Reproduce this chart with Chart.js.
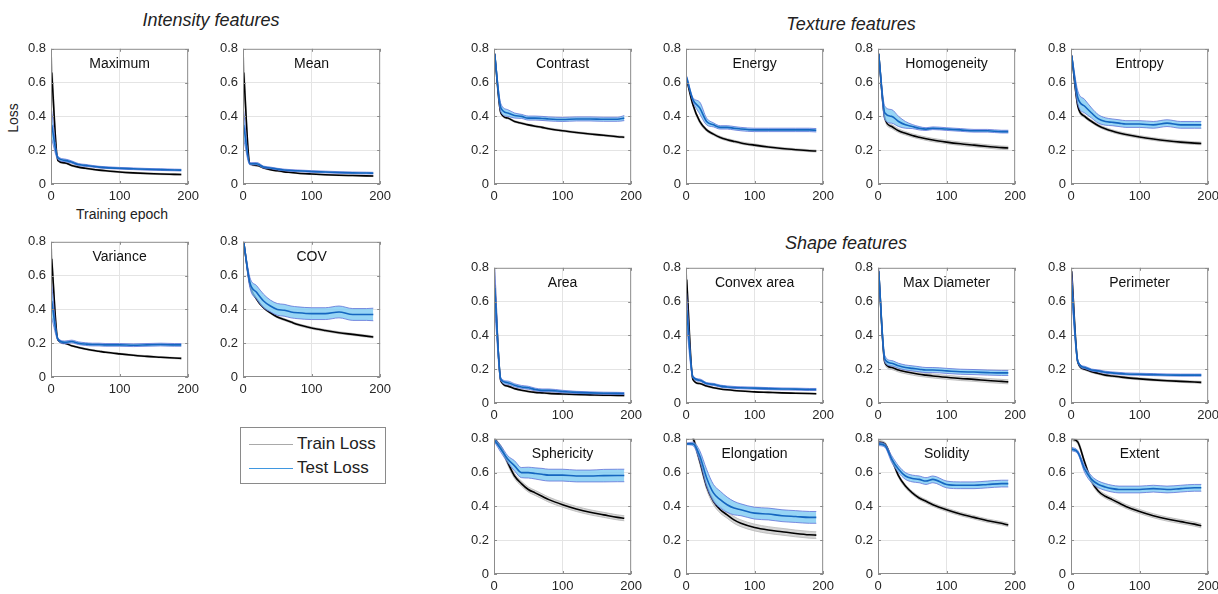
<!DOCTYPE html>
<html>
<head>
<meta charset="utf-8">
<script src="https://cdn.jsdelivr.net/npm/chart.js@4/dist/chart.umd.min.js"></script>
<style>
  body { margin: 0; background: #fff; width: 1218px; height: 594px; position: relative; overflow: hidden; font-family: "Liberation Sans", Arial, sans-serif; color: #222; }
  canvas { position: absolute; }
  .lbl { position: absolute; white-space: nowrap; }
  .grp { font-size: 18px; font-style: italic; transform: translateX(-50%); }
  #legend { position: absolute; left: 240px; top: 427px; width: 144px; height: 55px; border: 1px solid #8a8a8a; font-size: 17px; }
  #legend div { position: absolute; left: 8px; width: 130px; height: 20px; white-space: nowrap; }
  #legend span.line { position: absolute; left: 0; top: 10px; width: 44px; height: 0; }
  #legend span.txt { position: absolute; left: 48px; top: 0; white-space: nowrap; }
</style>
</head>
<body>
<div class="lbl grp" style="left:211px; top:10px">Intensity features</div>
<div class="lbl grp" style="left:851px; top:14px">Texture features</div>
<div class="lbl grp" style="left:846px; top:233px">Shape features</div>
<div class="lbl" style="left:-2px; top:110px; font-size:14px; transform:rotate(-90deg)">Loss</div>
<div class="lbl" style="left:122px; top:206px; font-size:14px; transform:translateX(-50%)">Training epoch</div>
<div id="legend">
  <div style="top:6px"><span class="line" style="border-top:1.5px solid #a9a9a9"></span><span class="txt">Train Loss</span></div>
  <div style="top:30px"><span class="line" style="border-top:1.5px solid #3f97e0"></span><span class="txt">Test Loss</span></div>
</div>
<script>
const epochs = [1, 10, 20, 30, 40, 50, 60, 70, 80, 100, 120, 140, 160, 180, 190];

const maximumTrain   = [0.66, 0.14, 0.125, 0.11, 0.10, 0.093, 0.087, 0.082, 0.078, 0.071, 0.066, 0.062, 0.059, 0.057, 0.056];
const maximumTrainSd = [0.09, 0.006, 0.005, 0.005, 0.005, 0.004, 0.004, 0.004, 0.004, 0.004, 0.004, 0.004, 0.004, 0.004, 0.004];
const maximumTest    = [0.35, 0.155, 0.14, 0.13, 0.115, 0.11, 0.105, 0.10, 0.097, 0.093, 0.09, 0.087, 0.085, 0.083, 0.082];
const maximumTestSd  = [0.085, 0.01, 0.008, 0.007, 0.006, 0.006, 0.005, 0.005, 0.005, 0.005, 0.005, 0.005, 0.005, 0.005, 0.005];

const meanTrain   = [0.66, 0.12, 0.11, 0.095, 0.085, 0.078, 0.072, 0.068, 0.064, 0.059, 0.055, 0.052, 0.05, 0.048, 0.047];
const meanTrainSd = [0.09, 0.005, 0.004, 0.004, 0.004, 0.004, 0.004, 0.003, 0.003, 0.003, 0.003, 0.003, 0.003, 0.003, 0.003];
const meanTest    = [0.35, 0.12, 0.12, 0.10, 0.095, 0.088, 0.083, 0.08, 0.078, 0.074, 0.071, 0.068, 0.066, 0.065, 0.064];
const meanTestSd  = [0.085, 0.006, 0.007, 0.006, 0.005, 0.005, 0.005, 0.005, 0.005, 0.005, 0.005, 0.005, 0.005, 0.005, 0.005];

const varianceTrain   = [0.70, 0.22, 0.20, 0.185, 0.175, 0.166, 0.158, 0.152, 0.146, 0.137, 0.129, 0.122, 0.117, 0.112, 0.11];
const varianceTrainSd = [0.06, 0.005, 0.004, 0.004, 0.004, 0.004, 0.004, 0.004, 0.004, 0.004, 0.004, 0.004, 0.004, 0.004, 0.004];
const varianceTest    = [0.45, 0.225, 0.205, 0.21, 0.20, 0.195, 0.192, 0.192, 0.19, 0.19, 0.188, 0.19, 0.192, 0.19, 0.19];
const varianceTestSd  = [0.10, 0.008, 0.008, 0.008, 0.008, 0.008, 0.008, 0.008, 0.008, 0.008, 0.008, 0.008, 0.008, 0.008, 0.008];

const covTrain   = [0.80, 0.55, 0.46, 0.41, 0.38, 0.355, 0.34, 0.325, 0.31, 0.29, 0.275, 0.262, 0.252, 0.242, 0.237];
const covTrainSd = [0.005, 0.006, 0.006, 0.006, 0.006, 0.006, 0.006, 0.006, 0.006, 0.006, 0.006, 0.006, 0.006, 0.006, 0.006];
const covTest    = [0.80, 0.56, 0.50, 0.45, 0.42, 0.40, 0.395, 0.385, 0.38, 0.375, 0.375, 0.385, 0.37, 0.37, 0.37];
const covTestSd  = [0.005, 0.03, 0.04, 0.04, 0.035, 0.035, 0.035, 0.035, 0.035, 0.035, 0.035, 0.035, 0.035, 0.035, 0.037];

const contrastTrain   = [0.77, 0.42, 0.39, 0.37, 0.36, 0.35, 0.342, 0.335, 0.327, 0.315, 0.305, 0.296, 0.288, 0.28, 0.277];
const contrastTrainSd = [0.005, 0.006, 0.005, 0.005, 0.005, 0.005, 0.005, 0.005, 0.005, 0.005, 0.005, 0.005, 0.005, 0.005, 0.005];
const contrastTest    = [0.77, 0.45, 0.42, 0.405, 0.40, 0.39, 0.39, 0.388, 0.385, 0.382, 0.385, 0.385, 0.383, 0.383, 0.39];
const contrastTestSd  = [0.005, 0.025, 0.02, 0.015, 0.012, 0.012, 0.012, 0.012, 0.012, 0.012, 0.012, 0.012, 0.012, 0.012, 0.015];

const energyTrain   = [0.62, 0.47, 0.37, 0.32, 0.295, 0.275, 0.262, 0.252, 0.243, 0.23, 0.219, 0.21, 0.203, 0.197, 0.195];
const energyTrainSd = [0.01, 0.01, 0.01, 0.008, 0.007, 0.007, 0.007, 0.007, 0.007, 0.007, 0.006, 0.006, 0.006, 0.006, 0.006];
const energyTest    = [0.63, 0.50, 0.45, 0.37, 0.35, 0.335, 0.335, 0.33, 0.325, 0.32, 0.32, 0.32, 0.32, 0.32, 0.318];
const energyTestSd  = [0.01, 0.012, 0.035, 0.02, 0.012, 0.01, 0.01, 0.01, 0.01, 0.01, 0.01, 0.01, 0.01, 0.01, 0.01];

const homogeneityTrain   = [0.77, 0.39, 0.34, 0.315, 0.30, 0.287, 0.277, 0.268, 0.26, 0.248, 0.238, 0.23, 0.222, 0.215, 0.213];
const homogeneityTrainSd = [0.005, 0.012, 0.012, 0.011, 0.01, 0.01, 0.01, 0.01, 0.01, 0.01, 0.01, 0.01, 0.01, 0.01, 0.01];
const homogeneityTest    = [0.77, 0.42, 0.40, 0.37, 0.35, 0.34, 0.33, 0.325, 0.33, 0.325, 0.32, 0.315, 0.315, 0.31, 0.31];
const homogeneityTestSd  = [0.005, 0.04, 0.04, 0.03, 0.02, 0.012, 0.01, 0.008, 0.008, 0.008, 0.008, 0.008, 0.008, 0.008, 0.008];

const entropyTrain   = [0.76, 0.46, 0.40, 0.37, 0.345, 0.327, 0.313, 0.302, 0.293, 0.278, 0.266, 0.256, 0.248, 0.242, 0.24];
const entropyTrainSd = [0.005, 0.01, 0.009, 0.008, 0.008, 0.008, 0.008, 0.008, 0.008, 0.008, 0.008, 0.008, 0.008, 0.008, 0.008];
const entropyTest    = [0.76, 0.51, 0.46, 0.42, 0.385, 0.37, 0.365, 0.36, 0.355, 0.355, 0.35, 0.36, 0.35, 0.35, 0.35];
const entropyTestSd  = [0.005, 0.04, 0.04, 0.03, 0.025, 0.022, 0.02, 0.02, 0.02, 0.02, 0.02, 0.02, 0.02, 0.02, 0.02];

const areaTrain   = [0.70, 0.13, 0.10, 0.085, 0.075, 0.068, 0.063, 0.06, 0.057, 0.053, 0.05, 0.048, 0.046, 0.045, 0.044];
const areaTrainSd = [0.1, 0.005, 0.004, 0.004, 0.004, 0.004, 0.004, 0.004, 0.004, 0.004, 0.004, 0.004, 0.004, 0.004, 0.004];
const areaTest    = [0.68, 0.14, 0.12, 0.105, 0.095, 0.09, 0.08, 0.075, 0.075, 0.068, 0.063, 0.06, 0.058, 0.057, 0.056];
const areaTestSd  = [0.12, 0.01, 0.01, 0.009, 0.009, 0.009, 0.008, 0.008, 0.008, 0.007, 0.006, 0.006, 0.006, 0.006, 0.006];

const convexTrain   = [0.73, 0.14, 0.115, 0.10, 0.09, 0.083, 0.078, 0.074, 0.071, 0.066, 0.063, 0.06, 0.058, 0.056, 0.055];
const convexTrainSd = [0.03, 0.005, 0.004, 0.004, 0.004, 0.003, 0.003, 0.003, 0.003, 0.003, 0.003, 0.003, 0.003, 0.003, 0.003];
const convexTest    = [0.55, 0.155, 0.135, 0.115, 0.11, 0.10, 0.095, 0.092, 0.09, 0.088, 0.085, 0.083, 0.082, 0.08, 0.08];
const convexTestSd  = [0.1, 0.008, 0.007, 0.006, 0.006, 0.006, 0.006, 0.006, 0.006, 0.006, 0.006, 0.006, 0.006, 0.006, 0.006];

const diameterTrain   = [0.78, 0.24, 0.21, 0.195, 0.185, 0.177, 0.17, 0.165, 0.16, 0.152, 0.145, 0.14, 0.133, 0.128, 0.125];
const diameterTrainSd = [0.02, 0.012, 0.012, 0.012, 0.012, 0.012, 0.012, 0.012, 0.012, 0.012, 0.012, 0.012, 0.012, 0.012, 0.012];
const diameterTest    = [0.78, 0.26, 0.235, 0.22, 0.21, 0.205, 0.20, 0.195, 0.195, 0.19, 0.185, 0.183, 0.18, 0.178, 0.178];
const diameterTestSd  = [0.02, 0.02, 0.016, 0.015, 0.015, 0.015, 0.015, 0.015, 0.015, 0.015, 0.015, 0.015, 0.015, 0.015, 0.015];

const perimeterTrain   = [0.78, 0.24, 0.20, 0.185, 0.175, 0.165, 0.16, 0.155, 0.15, 0.143, 0.137, 0.132, 0.128, 0.124, 0.122];
const perimeterTrainSd = [0.02, 0.006, 0.006, 0.006, 0.006, 0.006, 0.006, 0.006, 0.006, 0.006, 0.006, 0.006, 0.006, 0.006, 0.006];
const perimeterTest    = [0.70, 0.245, 0.21, 0.195, 0.19, 0.182, 0.178, 0.175, 0.172, 0.17, 0.168, 0.166, 0.165, 0.165, 0.165];
const perimeterTestSd  = [0.08, 0.008, 0.007, 0.006, 0.006, 0.006, 0.006, 0.006, 0.006, 0.006, 0.006, 0.006, 0.006, 0.006, 0.006];

const sphericityTrain   = [0.80, 0.75, 0.66, 0.58, 0.535, 0.50, 0.48, 0.46, 0.44, 0.41, 0.385, 0.365, 0.35, 0.335, 0.33];
const sphericityTrainSd = [0.005, 0.01, 0.015, 0.015, 0.015, 0.015, 0.015, 0.015, 0.015, 0.015, 0.015, 0.015, 0.015, 0.015, 0.015];
const sphericityTest    = [0.79, 0.74, 0.68, 0.64, 0.60, 0.60, 0.595, 0.59, 0.585, 0.585, 0.58, 0.58, 0.582, 0.583, 0.583];
const sphericityTestSd  = [0.01, 0.02, 0.02, 0.03, 0.03, 0.032, 0.033, 0.035, 0.035, 0.035, 0.035, 0.035, 0.037, 0.037, 0.037];

const elongationTrain   = [0.90, 0.81, 0.67, 0.52, 0.43, 0.38, 0.35, 0.32, 0.30, 0.275, 0.26, 0.25, 0.24, 0.232, 0.23];
const elongationTrainSd = [0.02, 0.02, 0.02, 0.02, 0.02, 0.02, 0.02, 0.02, 0.02, 0.02, 0.02, 0.02, 0.02, 0.02, 0.02];
const elongationTest    = [0.77, 0.77, 0.70, 0.57, 0.48, 0.44, 0.41, 0.39, 0.38, 0.36, 0.355, 0.345, 0.34, 0.335, 0.335];
const elongationTestSd  = [0.005, 0.01, 0.03, 0.05, 0.05, 0.05, 0.045, 0.04, 0.035, 0.035, 0.035, 0.035, 0.035, 0.035, 0.035];

const solidityTrain   = [0.78, 0.77, 0.68, 0.58, 0.52, 0.48, 0.45, 0.43, 0.41, 0.38, 0.355, 0.335, 0.315, 0.30, 0.29];
const solidityTrainSd = [0.01, 0.01, 0.01, 0.01, 0.01, 0.01, 0.01, 0.01, 0.01, 0.01, 0.01, 0.01, 0.01, 0.01, 0.01];
const solidityTest    = [0.77, 0.76, 0.68, 0.62, 0.58, 0.565, 0.56, 0.55, 0.56, 0.53, 0.525, 0.525, 0.53, 0.535, 0.535];
const solidityTestSd  = [0.01, 0.01, 0.02, 0.02, 0.02, 0.02, 0.02, 0.02, 0.02, 0.02, 0.02, 0.02, 0.02, 0.02, 0.02];

const extentTrain   = [0.80, 0.78, 0.66, 0.55, 0.49, 0.46, 0.44, 0.42, 0.40, 0.37, 0.345, 0.325, 0.31, 0.295, 0.285];
const extentTrainSd = [0.01, 0.012, 0.012, 0.012, 0.012, 0.012, 0.012, 0.012, 0.012, 0.012, 0.012, 0.012, 0.012, 0.012, 0.012];
const extentTest    = [0.74, 0.72, 0.62, 0.56, 0.53, 0.515, 0.505, 0.50, 0.50, 0.50, 0.505, 0.50, 0.505, 0.51, 0.51];
const extentTestSd  = [0.01, 0.01, 0.02, 0.02, 0.02, 0.02, 0.02, 0.02, 0.02, 0.02, 0.02, 0.02, 0.02, 0.02, 0.02];

const yTicks = [0, 0.2, 0.4, 0.6, 0.8];
const xTicks = [0, 100, 200];

// plot-box placement of each panel
const panels = [
  { title: 'Maximum',      left: 51,   top: 46,  d: [maximumTrain, maximumTrainSd, maximumTest, maximumTestSd] },
  { title: 'Mean',         left: 243,  top: 46,  d: [meanTrain, meanTrainSd, meanTest, meanTestSd] },
  { title: 'Variance',     left: 51,   top: 239, d: [varianceTrain, varianceTrainSd, varianceTest, varianceTestSd] },
  { title: 'COV',          left: 243,  top: 239, d: [covTrain, covTrainSd, covTest, covTestSd] },
  { title: 'Contrast',     left: 494,  top: 46,  d: [contrastTrain, contrastTrainSd, contrastTest, contrastTestSd] },
  { title: 'Energy',       left: 686,  top: 46,  d: [energyTrain, energyTrainSd, energyTest, energyTestSd] },
  { title: 'Homogeneity',  left: 878,  top: 46,  d: [homogeneityTrain, homogeneityTrainSd, homogeneityTest, homogeneityTestSd] },
  { title: 'Entropy',      left: 1071, top: 46,  d: [entropyTrain, entropyTrainSd, entropyTest, entropyTestSd] },
  { title: 'Area',         left: 494,  top: 265, d: [areaTrain, areaTrainSd, areaTest, areaTestSd] },
  { title: 'Convex area',  left: 686,  top: 265, d: [convexTrain, convexTrainSd, convexTest, convexTestSd] },
  { title: 'Max Diameter', left: 878,  top: 265, d: [diameterTrain, diameterTrainSd, diameterTest, diameterTestSd] },
  { title: 'Perimeter',    left: 1071, top: 265, d: [perimeterTrain, perimeterTrainSd, perimeterTest, perimeterTestSd] },
  { title: 'Sphericity',   left: 494,  top: 436, d: [sphericityTrain, sphericityTrainSd, sphericityTest, sphericityTestSd] },
  { title: 'Elongation',   left: 686,  top: 436, d: [elongationTrain, elongationTrainSd, elongationTest, elongationTestSd] },
  { title: 'Solidity',     left: 878,  top: 436, d: [solidityTrain, solidityTrainSd, solidityTest, solidityTestSd] },
  { title: 'Extent',       left: 1071, top: 436, d: [extentTrain, extentTrainSd, extentTest, extentTestSd] }
];

const PW = 139, PH = 138, YW = 42, PADT = 10, PADR = 14, XH = 24;

const pts = (arr, sd, sign) => arr.map((v, i) => ({ x: epochs[i], y: v + sign * (sd ? sd[i] : 0) }));

// box, inward ticks and panel title, like a matlab axes
const boxPlugin = {
  id: 'box',
  afterDraw(chart) {
    const { ctx, chartArea: a, scales } = chart;
    ctx.save();
    ctx.strokeStyle = '#8c8c8c';
    ctx.lineWidth = 1;
    ctx.strokeRect(a.left + 0.5, a.top + 0.5, a.right - a.left - 1, a.bottom - a.top - 1);
    ctx.beginPath();
    yTicks.forEach(v => {
      const y = Math.round(scales.y.getPixelForValue(v)) + 0.5;
      ctx.moveTo(a.left, y); ctx.lineTo(a.left + 3, y);
      ctx.moveTo(a.right, y); ctx.lineTo(a.right - 3, y);
    });
    xTicks.forEach(v => {
      const x = Math.round(scales.x.getPixelForValue(v)) + 0.5;
      ctx.moveTo(x, a.bottom); ctx.lineTo(x, a.bottom - 3);
      ctx.moveTo(x, a.top); ctx.lineTo(x, a.top + 3);
    });
    ctx.stroke();
    ctx.fillStyle = '#111';
    ctx.font = '14px "Liberation Sans", Arial, sans-serif';
    ctx.textAlign = 'center';
    ctx.textBaseline = 'middle';
    ctx.fillText(chart.options.plugins.box.title, (a.left + a.right) / 2, a.top + 15);
    ctx.restore();
  }
};

panels.forEach(p => {
  const cv = document.createElement('canvas');
  const w = PW + YW + PADR, h = PH + PADT + XH;
  cv.width = w; cv.height = h;
  cv.style.left = (p.left - YW) + 'px';
  cv.style.top = (p.top - PADT) + 'px';
  cv.style.width = w + 'px'; cv.style.height = h + 'px';
  document.body.appendChild(cv);
  const [tr, trSd, te, teSd] = p.d;
  const common = { pointRadius: 0, cubicInterpolationMode: 'monotone' };
  new Chart(cv, {
    type: 'line',
    data: {
      datasets: [
        { ...common, data: pts(tr, trSd, 1), borderColor: '#b8b8b8', borderWidth: 0.8, fill: false, order: 3 },
        { ...common, data: pts(tr, trSd, -1), borderColor: '#b8b8b8', borderWidth: 0.8, fill: '-1', backgroundColor: 'rgba(195,195,195,0.7)', order: 3 },
        { ...common, data: pts(tr, null, 0), borderColor: '#000000', borderWidth: 1.6, fill: false, order: 2 },
        { ...common, data: pts(te, teSd, 1), borderColor: '#6172d8', borderWidth: 0.8, fill: false, order: 1 },
        { ...common, data: pts(te, teSd, -1), borderColor: '#6172d8', borderWidth: 0.8, fill: '-1', backgroundColor: 'rgba(125,202,242,0.8)', order: 1 },
        { ...common, data: pts(te, null, 0), borderColor: '#1566c0', borderWidth: 1.6, fill: false, order: 0 }
      ]
    },
    options: {
      responsive: false,
      animation: false,
      devicePixelRatio: 1,
      layout: { padding: { left: 0, top: PADT, right: PADR, bottom: 0 } },
      plugins: { legend: { display: false }, tooltip: { enabled: false }, box: { title: p.title } },
      scales: {
        x: {
          type: 'linear', min: 0, max: 200,
          afterBuildTicks: s => { s.ticks = xTicks.map(v => ({ value: v })); },
          afterFit: s => { s.height = XH; },
          border: { display: false },
          grid: { drawTicks: false, color: c => c.tick && c.tick.value === 100 ? '#e4e4e4' : 'rgba(0,0,0,0)' },
          ticks: { padding: 5, color: '#262626', font: { size: 13, family: '"Liberation Sans", Arial, sans-serif' }, maxRotation: 0 }
        },
        y: {
          min: 0, max: 0.8,
          afterBuildTicks: s => { s.ticks = yTicks.map(v => ({ value: v })); },
          afterFit: s => { s.width = YW; },
          border: { display: false },
          grid: { drawTicks: false, color: c => c.tick && c.tick.value > 0 && c.tick.value < 0.8 ? '#e4e4e4' : 'rgba(0,0,0,0)' },
          ticks: { padding: 5, color: '#262626', font: { size: 13, family: '"Liberation Sans", Arial, sans-serif' }, callback: v => String(+v.toFixed(1)) }
        }
      }
    },
    plugins: [boxPlugin]
  });
});
</script>
</body>
</html>
